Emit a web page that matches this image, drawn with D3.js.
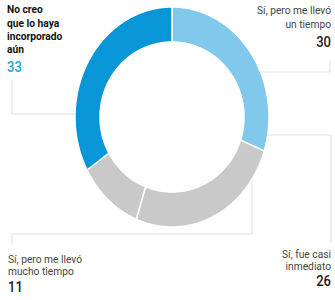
<!DOCTYPE html>
<html>
<head>
<meta charset="utf-8">
<script src="https://cdn.jsdelivr.net/npm/d3@7"></script>
<style>
  body { margin: 0; background: #fff; }
  svg text { font-family: Roboto, "Liberation Sans", sans-serif; }
</style>
</head>
<body>
<div id="chart"></div>
<script>
// survey answers, clockwise from 12 o'clock
const categories = [
  "Sí, pero me llevó un tiempo",
  "Sí, fue casi inmediato",
  "Sí, pero me llevó mucho tiempo",
  "No creo que lo haya incorporado aún"
];
const values = [30, 26, 11, 33];
const labelLines = [
  ["Sí, pero me llevó", "un tiempo"],
  ["Sí, fue casi", "inmediato"],
  ["Sí, pero me llevó", "mucho tiempo"],
  ["No creo", "que lo haya", "incorporado", "aún"]
];
const sliceColors = ["#80c9ec", "#c9c9c9", "#c9c9c9", "#0896d8"];

const width = 335, height = 300;
const svg = d3.select("#chart").append("svg")
  .attr("width", width)
  .attr("height", height);

// donut is a bit taller than wide in the reference
const cx = 172, cy = 117;
const outer = { rx: 97, ry: 110 };
const inner = { rx: 72, ry: 75 };

const pie = d3.pie().sort(null).value(d => d);
const arcs = pie(values);

// leader lines (drawn under the ring)
const leaders = [
  [[330, 60], [330, 72], [250, 72]],
  [[331, 243], [331, 135], [250, 135]],
  [[12, 245], [12, 234], [252, 234], [252, 160]],
  [[12, 80], [12, 114], [90, 114]]
];
const line = d3.line();
svg.append("g").attr("class", "leaders")
  .selectAll("path")
  .data(leaders)
  .enter()
  .append("path")
  .attr("d", line)
  .attr("fill", "none")
  .attr("stroke", "#dedede")
  .attr("stroke-width", 1);

// elliptical ring segment
function ringPoint(a, r) {
  return [cx + r.rx * Math.sin(a), cy - r.ry * Math.cos(a)];
}
function slicePath(d) {
  let steps = d3.range(d.startAngle, d.endAngle, 0.01).concat([d.endAngle]);
  let pts = steps.map(a => ringPoint(a, outer))
    .concat(steps.slice().reverse().map(a => ringPoint(a, inner)));
  return d3.line().curve(d3.curveLinearClosed)(pts);
}

svg.append("g").attr("class", "ring")
  .selectAll("path")
  .data(arcs)
  .enter()
  .append("path")
  .attr("d", slicePath)
  .attr("fill", (d, i) => sliceColors[i])
  .attr("stroke", "#fff")
  .attr("stroke-width", 1.5)
  .attr("stroke-linejoin", "round");

// labels: baselines of each text line, then the number
const labelPos = [
  { x: 331, ys: [14, 28], numY: 47, anchor: "end", bold: false, numColor: "#222" },
  { x: 331, ys: [258, 270.5], numY: 286, anchor: "end", bold: false, numColor: "#222" },
  { x: 8, ys: [263, 275.5], numY: 292.5, anchor: "start", bold: false, numColor: "#222" },
  { x: 7, ys: [13, 27, 40, 53], numY: 72, anchor: "start", bold: true, numColor: "#2a9fd8" }
];
const squeeze = 0.93; // fake a condensed face

labelPos.forEach((p, i) => {
  let g = svg.append("g")
    .attr("transform", `translate(${p.x},0) scale(${squeeze},1)`);
  let t = g.append("text")
    .attr("text-anchor", p.anchor)
    .attr("font-size", 11)
    .attr("font-weight", p.bold ? "bold" : "normal")
    .attr("fill", p.bold ? "#111" : "#444");
  labelLines[i].forEach((s, j) => {
    t.append("tspan")
      .attr("x", 0)
      .attr("y", p.ys[j])
      .text(s);
  });
  g.append("text")
    .attr("x", 0)
    .attr("y", p.numY)
    .attr("text-anchor", p.anchor)
    .attr("font-size", 14)
    .attr("font-weight", 500)
    .attr("fill", p.numColor)
    .text(values[i]);
});
</script>
</body>
</html>
